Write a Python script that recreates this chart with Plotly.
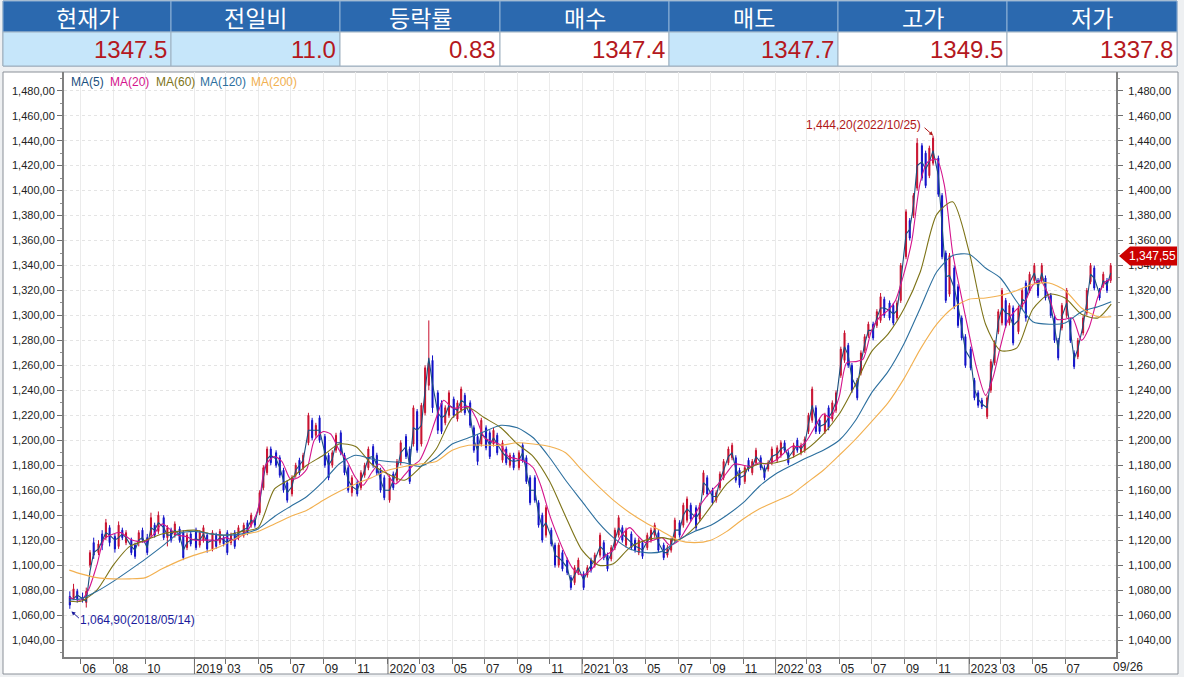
import pandas as pd
import plotly.graph_objects as go

# header table
header_labels = ["현재가", "전일비", "등락률", "매수", "매도", "고가", "저가"]
header_values = ["1347.5", "11.0", "0.83", "1347.4", "1347.7", "1349.5", "1337.8"]
header_shaded = [True, True, False, False, True, False, False]
col_edges = [3, 171, 340, 500, 669, 838, 1007, 1177]

# weekly candles, one row per month, first row is 2018-05
highs = [
    1079, 1085, 1081,
    1078, 1082, 1112, 1122,
    1120, 1128, 1137, 1132,
    1125, 1135, 1130, 1128,
    1122, 1118, 1128, 1130,
    1125, 1142, 1134, 1143,
    1140, 1132, 1130, 1135,
    1131, 1128, 1126, 1127,
    1130, 1128, 1132, 1126,
    1128, 1126, 1129, 1124,
    1128, 1126, 1128, 1132,
    1134, 1136, 1142, 1138,
    1160, 1180, 1195, 1195,
    1192, 1188, 1178, 1168,
    1172, 1182, 1186, 1190,
    1222, 1218, 1214, 1220,
    1205, 1190, 1192, 1206,
    1208, 1190, 1180, 1172,
    1168, 1176, 1182, 1195,
    1197, 1190, 1178, 1172,
    1172, 1175, 1185, 1200,
    1205, 1195, 1228, 1225,
    1230, 1260, 1296, 1268,
    1240, 1232, 1228, 1240,
    1235, 1232, 1243, 1238,
    1232, 1212, 1205, 1218,
    1212, 1208, 1210, 1206,
    1200, 1195, 1190, 1190,
    1192, 1198, 1188, 1172,
    1172, 1152, 1142, 1148,
    1130, 1118, 1118, 1112,
    1106, 1092, 1100, 1106,
    1095, 1100, 1106, 1110,
    1126, 1120, 1110, 1116,
    1130, 1140, 1132, 1130,
    1127, 1122, 1122, 1120,
    1126, 1130, 1134, 1128,
    1118, 1116, 1122, 1138,
    1136, 1150, 1155, 1150,
    1148, 1150, 1176, 1172,
    1162, 1160, 1175, 1185,
    1195, 1198, 1188, 1178,
    1180, 1186, 1185, 1194,
    1188, 1180, 1184, 1195,
    1196, 1200, 1200, 1192,
    1198, 1202, 1198, 1203,
    1222, 1243, 1228, 1218,
    1222, 1228, 1232, 1240,
    1275, 1288, 1278, 1262,
    1250, 1272, 1285, 1295,
    1295, 1305, 1318, 1315,
    1312, 1310, 1312, 1342,
    1385, 1378, 1398, 1442,
    1438, 1432, 1436, 1444,
    1428, 1398, 1352, 1350,
    1340, 1325, 1300, 1285,
    1275, 1250, 1240, 1234,
    1236, 1265, 1280, 1305,
    1322, 1314, 1310, 1308,
    1308, 1322, 1328, 1335,
    1342, 1330, 1342, 1332,
    1318, 1300, 1282, 1310,
    1322, 1298, 1272, 1282,
    1300, 1322, 1342, 1340,
    1322, 1335, 1330, 1342,
]
lows = [
    1065, 1072, 1070,
    1070, 1066, 1098, 1105,
    1108, 1112, 1120, 1115,
    1110, 1113, 1120, 1116,
    1108, 1105, 1115, 1118,
    1108, 1122, 1122, 1125,
    1120, 1115, 1118, 1122,
    1118, 1104, 1112, 1115,
    1112, 1114, 1118, 1110,
    1111, 1113, 1116, 1115,
    1108, 1116, 1113, 1120,
    1122, 1124, 1130, 1130,
    1140, 1160, 1172, 1180,
    1178, 1170, 1158, 1150,
    1155, 1170, 1172, 1176,
    1196, 1200, 1202, 1198,
    1178, 1168, 1178, 1190,
    1188, 1172, 1158, 1155,
    1155, 1160, 1170, 1176,
    1178, 1172, 1158, 1152,
    1150, 1160, 1166, 1180,
    1185, 1165, 1195, 1190,
    1195, 1220, 1240, 1222,
    1205, 1205, 1212, 1218,
    1218, 1215, 1222, 1220,
    1210, 1190, 1180, 1195,
    1192, 1185, 1195, 1188,
    1182, 1180, 1178, 1176,
    1176, 1182, 1165, 1148,
    1150, 1130, 1118, 1122,
    1115, 1098, 1098, 1095,
    1092, 1080, 1084, 1092,
    1080, 1090, 1094, 1098,
    1106, 1104, 1095, 1103,
    1112, 1122, 1118, 1114,
    1112, 1110, 1108, 1105,
    1112, 1118, 1122, 1110,
    1104, 1106, 1110, 1118,
    1122, 1130, 1134, 1135,
    1128, 1135, 1156, 1155,
    1148, 1150, 1160, 1168,
    1180, 1184, 1166, 1162,
    1165, 1175, 1172, 1180,
    1176, 1168, 1175, 1180,
    1182, 1186, 1190, 1180,
    1186, 1190, 1188, 1190,
    1205, 1214, 1205, 1205,
    1205, 1208, 1215, 1222,
    1250, 1262, 1258, 1238,
    1232, 1252, 1270, 1282,
    1280, 1290, 1294, 1298,
    1296, 1292, 1296, 1310,
    1345, 1360, 1378, 1400,
    1408, 1402, 1410, 1420,
    1395, 1345, 1310, 1315,
    1305, 1290, 1280, 1258,
    1256, 1232, 1226, 1225,
    1217, 1238, 1260, 1285,
    1292, 1290, 1292, 1276,
    1285, 1305, 1295, 1318,
    1326, 1314, 1326, 1312,
    1298, 1278, 1264, 1288,
    1298, 1278, 1257, 1265,
    1284, 1300, 1325, 1320,
    1312, 1322, 1318, 1326,
]
opens = [
    1075, 1074, 1079,
    1074, 1070, 1100, 1118,
    1110, 1125, 1122, 1130,
    1123, 1115, 1128, 1118,
    1120, 1116, 1118, 1128,
    1122, 1124, 1132, 1127,
    1138, 1122, 1128, 1124,
    1129, 1126, 1114, 1125,
    1128, 1116, 1120, 1124,
    1113, 1124, 1118, 1122,
    1126, 1118, 1126, 1122,
    1124, 1134, 1132, 1136,
    1142, 1162, 1174, 1193,
    1190, 1186, 1176, 1166,
    1157, 1172, 1184, 1178,
    1198, 1216, 1204, 1218,
    1203, 1188, 1180, 1192,
    1206, 1188, 1178, 1158,
    1166, 1162, 1172, 1178,
    1195, 1188, 1176, 1170,
    1152, 1173, 1168, 1182,
    1203, 1193, 1197, 1223,
    1197, 1222, 1244, 1264,
    1238, 1230, 1214, 1220,
    1233, 1217, 1224, 1236,
    1230, 1210, 1203, 1197,
    1210, 1206, 1197, 1204,
    1184, 1193, 1180, 1188,
    1178, 1196, 1186, 1170,
    1170, 1150, 1140, 1124,
    1128, 1116, 1100, 1110,
    1104, 1090, 1086, 1094,
    1093, 1092, 1104, 1100,
    1108, 1118, 1108, 1105,
    1114, 1124, 1130, 1116,
    1125, 1120, 1110, 1118,
    1114, 1120, 1124, 1126,
    1116, 1108, 1112, 1120,
    1134, 1132, 1136, 1148,
    1146, 1137, 1158, 1170,
    1160, 1152, 1162, 1170,
    1182, 1186, 1186, 1176,
    1167, 1184, 1174, 1182,
    1186, 1178, 1177, 1182,
    1184, 1188, 1198, 1190,
    1188, 1200, 1190, 1192,
    1207, 1216, 1226, 1216,
    1207, 1226, 1217, 1224,
    1252, 1264, 1276, 1260,
    1248, 1254, 1272, 1284,
    1293, 1292, 1296, 1313,
    1310, 1308, 1298, 1312,
    1347, 1376, 1380, 1402,
    1436, 1430, 1412, 1422,
    1426, 1396, 1350, 1317,
    1338, 1323, 1298, 1283,
    1273, 1248, 1238, 1232,
    1219, 1240, 1262, 1287,
    1294, 1312, 1294, 1306,
    1287, 1307, 1326, 1320,
    1328, 1328, 1328, 1330,
    1316, 1298, 1280, 1290,
    1300, 1296, 1270, 1267,
    1286, 1302, 1327, 1338,
    1320, 1324, 1328, 1328,
]
closes = [
    1068, 1081, 1073,
    1072, 1079, 1110, 1108,
    1117, 1116, 1134, 1118,
    1113, 1132, 1122, 1126,
    1110, 1107, 1126, 1120,
    1110, 1138, 1124, 1140,
    1122, 1130, 1120, 1133,
    1120, 1106, 1124, 1117,
    1114, 1126, 1130, 1113,
    1126, 1115, 1127, 1117,
    1110, 1124, 1115, 1130,
    1132, 1126, 1140, 1132,
    1158, 1178, 1193, 1182,
    1180, 1172, 1160, 1152,
    1170, 1180, 1174, 1188,
    1220, 1202, 1212, 1200,
    1180, 1170, 1190, 1204,
    1190, 1174, 1160, 1170,
    1157, 1174, 1180, 1193,
    1180, 1174, 1160, 1154,
    1170, 1162, 1183, 1198,
    1187, 1167, 1226, 1192,
    1228, 1258, 1262, 1226,
    1208, 1207, 1226, 1238,
    1220, 1230, 1241, 1222,
    1212, 1192, 1183, 1216,
    1194, 1187, 1208, 1190,
    1198, 1182, 1188, 1178,
    1190, 1184, 1167, 1150,
    1152, 1132, 1120, 1146,
    1117, 1100, 1116, 1097,
    1094, 1082, 1098, 1104,
    1082, 1098, 1096, 1108,
    1124, 1106, 1097, 1114,
    1128, 1138, 1120, 1128,
    1114, 1112, 1120, 1107,
    1124, 1128, 1132, 1112,
    1106, 1114, 1120, 1136,
    1124, 1148, 1153, 1137,
    1130, 1148, 1174, 1157,
    1150, 1158, 1173, 1183,
    1193, 1196, 1168, 1164,
    1178, 1177, 1183, 1192,
    1178, 1170, 1182, 1193,
    1194, 1198, 1192, 1182,
    1196, 1192, 1196, 1201,
    1220, 1241, 1207, 1207,
    1220, 1210, 1230, 1238,
    1273, 1286, 1260, 1240,
    1234, 1270, 1283, 1293,
    1282, 1303, 1315, 1300,
    1298, 1294, 1310, 1340,
    1383, 1362, 1396, 1438,
    1410, 1404, 1434, 1442,
    1397, 1347, 1312, 1348,
    1307, 1292, 1282, 1260,
    1258, 1234, 1228, 1227,
    1234, 1263, 1278, 1303,
    1320, 1292, 1308, 1278,
    1306, 1320, 1298, 1333,
    1340, 1316, 1340, 1314,
    1300, 1280, 1266, 1308,
    1320, 1280, 1259, 1280,
    1298, 1320, 1340, 1322,
    1314, 1333, 1320, 1340,
]
ma5 = [
    1074, 1073, 1076,
    1073, 1071, 1095, 1110,
    1113, 1120, 1126, 1124,
    1120, 1122, 1125, 1122,
    1115, 1112, 1120, 1122,
    1114, 1130, 1128, 1134,
    1130, 1124, 1124, 1128,
    1124, 1112, 1118, 1120,
    1121, 1120, 1125, 1118,
    1120, 1119, 1122, 1120,
    1118, 1121, 1120, 1126,
    1128, 1130, 1136, 1134,
    1150, 1170, 1185, 1188,
    1185, 1178, 1168, 1158,
    1163, 1176, 1180, 1184,
    1208, 1208, 1208, 1208,
    1190, 1180, 1185, 1198,
    1198, 1181, 1168, 1163,
    1160, 1168, 1176, 1186,
    1187, 1180, 1168, 1160,
    1160, 1168, 1176, 1190,
    1195, 1180, 1210, 1208,
    1212, 1240, 1266, 1245,
    1222, 1218, 1220, 1228,
    1226, 1224, 1232, 1230,
    1220, 1200, 1192, 1205,
    1202, 1196, 1202, 1197,
    1190, 1187, 1184, 1183,
    1184, 1190, 1176, 1160,
    1160, 1141, 1130, 1134,
    1122, 1108, 1106, 1103,
    1098, 1086, 1092, 1098,
    1088, 1095, 1100, 1104,
    1115, 1112, 1103, 1109,
    1120, 1130, 1125, 1122,
    1118, 1115, 1114, 1112,
    1119, 1124, 1128, 1118,
    1110, 1110, 1116, 1128,
    1128, 1140, 1145, 1142,
    1138, 1142, 1166, 1163,
    1155, 1155, 1168, 1176,
    1187, 1190, 1177, 1170,
    1172, 1180, 1178, 1187,
    1182, 1174, 1180, 1187,
    1189, 1193, 1195, 1186,
    1192, 1196, 1193, 1197,
    1213, 1228, 1216, 1211,
    1213, 1218, 1223, 1231,
    1262, 1275, 1268, 1250,
    1241, 1262, 1277, 1288,
    1288, 1298, 1306, 1306,
    1304, 1301, 1304, 1326,
    1365, 1369, 1388, 1420,
    1423, 1417, 1423, 1432,
    1412, 1372, 1331, 1332,
    1322, 1308, 1290, 1272,
    1265, 1241, 1233, 1229,
    1226, 1251, 1270, 1295,
    1306, 1302, 1301, 1292,
    1296, 1313, 1311, 1326,
    1334, 1322, 1334, 1322,
    1308, 1289, 1273, 1299,
    1310, 1288, 1265, 1273,
    1292, 1311, 1333, 1330,
    1317, 1328, 1324, 1334,
]

# twice a month: first value 2018-05-10, last value 2023-09-26
ma20 = [
    1074,
    1072, 1080, 1100, 1121, 1125, 1126, 1121, 1119, 1119, 1124, 1133, 1129, 1124, 1123,
    1120, 1120, 1120, 1120, 1122, 1120, 1124, 1130, 1145, 1180, 1187, 1183,
    1169, 1170, 1177, 1200, 1207, 1205, 1192, 1184, 1170, 1164, 1174, 1181,
    1172, 1165, 1172, 1179, 1184, 1197, 1218, 1232, 1226, 1226, 1227, 1218,
    1202, 1199, 1196, 1187, 1185, 1183, 1178, 1164, 1140, 1124, 1108, 1097,
    1092, 1095, 1103, 1108, 1112, 1123, 1130, 1124, 1118, 1120, 1122, 1116,
    1119, 1128, 1140, 1150, 1159, 1165, 1174, 1181, 1180, 1179, 1182, 1181,
    1184, 1189, 1195, 1195, 1200, 1210, 1221, 1218, 1235, 1262, 1263, 1265,
    1288, 1298, 1304, 1312, 1335, 1360, 1407, 1423, 1425, 1405, 1350, 1320,
    1285, 1258, 1236, 1250, 1275, 1296, 1305, 1310, 1324, 1328, 1315, 1297,
    1297, 1298, 1280, 1290, 1315, 1327,
    1329,
]

# once a month: first value 2018-05-10, last value 2023-09-26
ma60 = [
    1071,
    1071, 1080, 1100, 1115, 1120, 1125, 1127,
    1128, 1125, 1124, 1127, 1130, 1161, 1169, 1180, 1188, 1197, 1195, 1181,
    1173, 1168, 1178, 1193, 1218, 1226, 1218, 1210, 1197, 1187, 1167, 1139,
    1112, 1100, 1101, 1114, 1120, 1122, 1120, 1130, 1147, 1165, 1175, 1181,
    1182, 1186, 1193, 1205, 1221, 1245, 1271, 1285, 1306, 1335, 1381, 1391,
    1351, 1293, 1272, 1274, 1305, 1317, 1314, 1301, 1298,
    1309,
]
ma120 = [
    1072,
    1073, 1079, 1087, 1096, 1105, 1115, 1125,
    1127, 1125, 1124, 1125, 1129, 1139, 1147, 1155, 1167, 1181, 1188, 1185,
    1183, 1182, 1179, 1186, 1197, 1202, 1207, 1212, 1210, 1202, 1186, 1168,
    1151, 1134, 1122, 1113, 1110, 1111, 1120, 1127, 1132, 1140, 1150, 1163,
    1173, 1180, 1186, 1192, 1200, 1216, 1238, 1255, 1278, 1306, 1335, 1348,
    1349, 1338, 1330, 1311, 1295, 1293, 1294, 1303, 1307,
    1311,
]
ma200 = [
    1096,
    1093, 1090, 1089, 1089, 1090, 1097, 1103,
    1108, 1112, 1117, 1124, 1127, 1133, 1139, 1144, 1152, 1159, 1165, 1170,
    1176, 1179, 1181, 1183, 1192, 1196, 1196, 1196, 1198, 1197, 1195, 1190,
    1176, 1163, 1152, 1142, 1134, 1127, 1120, 1118, 1120, 1127, 1137, 1145,
    1151, 1157, 1166, 1176, 1188, 1201, 1215, 1230, 1250, 1273, 1293, 1306,
    1313, 1314, 1316, 1320, 1325, 1326, 1320, 1306, 1299,
    1299,
]

ma_names = ["MA(5)", "MA(20)", "MA(60)", "MA(120)", "MA(200)"]
ma_colors = ["#1A4F7E", "#D4148C", "#7D7317", "#2C6F9E", "#F2B050"]
ma_label_px = [69, 108, 154, 198, 249]

y_ticks = list(range(1040, 1481, 20))
y_labels = [f"{v:,},00" for v in y_ticks]

x_tick_dates = ["2018-06-01", "2018-08-01", "2018-10-01", "2019-01-01", "2019-03-01", "2019-05-01",
                "2019-07-01", "2019-09-01", "2019-11-01", "2020-01-01", "2020-03-01", "2020-05-01",
                "2020-07-01", "2020-09-01", "2020-11-01", "2021-01-01", "2021-03-01", "2021-05-01",
                "2021-07-01", "2021-09-01", "2021-11-01", "2022-01-01", "2022-03-01", "2022-05-01",
                "2022-07-01", "2022-09-01", "2022-11-01", "2023-01-01", "2023-03-01", "2023-05-01",
                "2023-07-01"]
x_tick_labels = ["06", "08", "10", "2019", "03", "05", "07", "09", "11", "2020", "03", "05", "07", "09",
                 "11", "2021", "03", "05", "07", "09", "11", "2022", "03", "05", "07", "09", "11", "2023",
                 "03", "05", "07"]

current_price = 1347.55
low_point = ("2018-05-14", 1064.90)
high_point = ("2022-10-25", 1444.20)

W, H = 1184, 677
L, R, T, B = 64, 1116, 72, 657


def px(x):
    return (x - L) / (R - L)


def py(y):
    return (B - y) / (B - T)


def box(x0, y0, x1, y1, fill, line="rgba(0,0,0,0)", width=1):
    return dict(type="rect", xref="paper", yref="paper", x0=px(x0), x1=px(x1), y0=py(y0), y1=py(y1),
                fillcolor=fill, line=dict(color=line, width=width), layer="below")


def label(x, y, text, size, color, anchor="center", family="Liberation Sans"):
    return dict(xref="paper", yref="paper", x=px(x), y=py(y), text=text, showarrow=False, xanchor=anchor,
                yanchor="middle", font=dict(size=size, color=color, family=family))


months = pd.period_range("2018-05", "2023-09", freq="M")
candle_dates = [f"{m}-{d:02d}" for m in months for d in (4, 11, 18, 25)][1:]
ma5_dates = candle_dates
after_may = months[1:]
ma20_dates = ["2018-05-10"] + [f"{m}-{d:02d}" for m in after_may for d in (1, 15)] + ["2023-09-26"]
ma_dates = ["2018-05-10"] + [f"{m}-01" for m in after_may] + ["2023-09-26"]

fig = go.Figure()
fig.add_trace(go.Candlestick(
    x=candle_dates, open=opens, high=highs, low=lows, close=closes,
    increasing=dict(line=dict(color="#C8102E", width=1), fillcolor="#C8102E"),
    decreasing=dict(line=dict(color="#1010C8", width=1), fillcolor="#1010C8"),
    whiskerwidth=0, showlegend=False,
))
series = [(ma5_dates, ma5), (ma20_dates, ma20), (ma_dates, ma60), (ma_dates, ma120), (ma_dates, ma200)]
for i, (dates, vals) in enumerate(series):
    fig.add_trace(go.Scatter(x=dates, y=vals, mode="lines", name=ma_names[i], showlegend=False,
                             line=dict(color=ma_colors[i], width=1.1, shape="spline" if i >= 1 else "linear", smoothing=0.7)))
# keeps the right hand axis on the page
fig.add_trace(go.Scatter(x=candle_dates[-1:], y=[current_price], mode="markers", yaxis="y2",
                         marker=dict(opacity=0), showlegend=False))

shapes = [
    box(3, 72, 1178, 674, "white", "#8A9098"),
    box(3, 1, 1177, 66, "white", "#8A9AAA"),
]
annotations = []
for i, name in enumerate(header_labels):
    x0, x1 = col_edges[i], col_edges[i + 1]
    shapes.append(box(x0, 1, x1, 32, "#2B69AF", "#8FB2D6"))
    shapes.append(box(x0, 32, x1, 66, "#C6E6FA" if header_shaded[i] else "white", "#9DB0C0"))
    annotations.append(label((x0 + x1) / 2, 17, name, 23, "white", family="Noto Sans CJK KR"))
    annotations.append(label(x1 - 2, 50, header_values[i], 24, "#B41820", anchor="right"))

for i, name in enumerate(ma_names):
    annotations.append(label(ma_label_px[i], 82, name, 12, ma_colors[i], anchor="left"))

# year boundaries run through the whole date strip
for d, t in zip(x_tick_dates, x_tick_labels):
    if len(t) == 4:
        shapes.append(dict(type="line", xref="x", yref="paper", x0=d, x1=d, y0=0, y1=py(674),
                           line=dict(color="#707070", width=1)))

# price tag on the right axis
tag = 7.6
tag_path = (f"M {px(1119)},{current_price} L {px(1130)},{current_price + tag} L {px(1177)},{current_price + tag} "
            f"L {px(1177)},{current_price - tag} L {px(1130)},{current_price - tag} Z")
shapes.append(dict(type="path", xref="paper", yref="y", path=tag_path, fillcolor="#CC0000", line=dict(width=0)))
annotations.append(dict(xref="paper", yref="y", x=px(1152), y=current_price, xanchor="center",
                        text=f"{current_price:,.2f}".replace(".", ","), showarrow=False,
                        font=dict(size=12, color="white", family="Liberation Sans")))

annotations.append(label(1111, 667, "09/26", 12, "#222222", anchor="left"))

low_text = f"{low_point[1]:,.2f}".replace(".", ",") + "(" + low_point[0].replace("-", "/") + ")"
high_text = f"{high_point[1]:,.2f}".replace(".", ",") + "(" + high_point[0].replace("-", "/") + ")"
annotations.append(label(78, 620, low_text, 12, "#1A1A9C", anchor="left"))
annotations.append(label(923, 125, high_text, 12, "#B01818", anchor="right"))
annotations.append(dict(x=low_point[0], y=low_point[1] - 2, ax=9, ay=8, text="", showarrow=True, arrowhead=2,
                        arrowsize=0.8, arrowwidth=1, arrowcolor="#1A1A9C"))
annotations.append(dict(x=high_point[0], y=high_point[1], ax=-10, ay=-9, text="", showarrow=True, arrowhead=2,
                        arrowsize=0.8, arrowwidth=1, arrowcolor="#B01818"))

y_axis = dict(
    range=[1026.4, 1495], tickmode="array", tickvals=y_ticks, ticktext=y_labels, ticks="outside", ticklen=5,
    tickcolor="#707070", tickfont=dict(size=11, color="#222222", family="Liberation Sans"),
    showline=True, linecolor="#808080", linewidth=2, zeroline=False,
    minor=dict(dtick=10, tick0=1040, ticks="outside", ticklen=2, tickcolor="#909090", showgrid=False),
)
fig.update_layout(
    width=W, height=H, margin=dict(l=L, r=W - R, t=T, b=H - B, autoexpand=False),
    paper_bgcolor="#EEF0F2", plot_bgcolor="rgba(0,0,0,0)", showlegend=False, boxgap=0.6,
    shapes=shapes, annotations=annotations,
    xaxis=dict(
        type="date", range=["2018-04-30", "2023-10-05"], rangeslider=dict(visible=False),
        tickmode="array", tickvals=x_tick_dates, ticktext=x_tick_labels, ticks="outside", ticklen=5,
        tickcolor="#707070", ticklabelposition="outside right",
        tickfont=dict(size=12, color="#222222", family="Liberation Sans"),
        showgrid=True, gridcolor="#EBEBEB", gridwidth=1, showline=True, linecolor="#808080", linewidth=2,
    ),
    yaxis=dict(y_axis, side="left", showgrid=True, gridcolor="#E4E4E4", griddash="dot", gridwidth=1),
    yaxis2=dict(y_axis, side="right", overlaying="y", showgrid=False, ticklabelstandoff=3),
)

fig.write_html("out.html", config=dict(displayModeBar=False),
               post_script="document.body.style.margin='0';")
